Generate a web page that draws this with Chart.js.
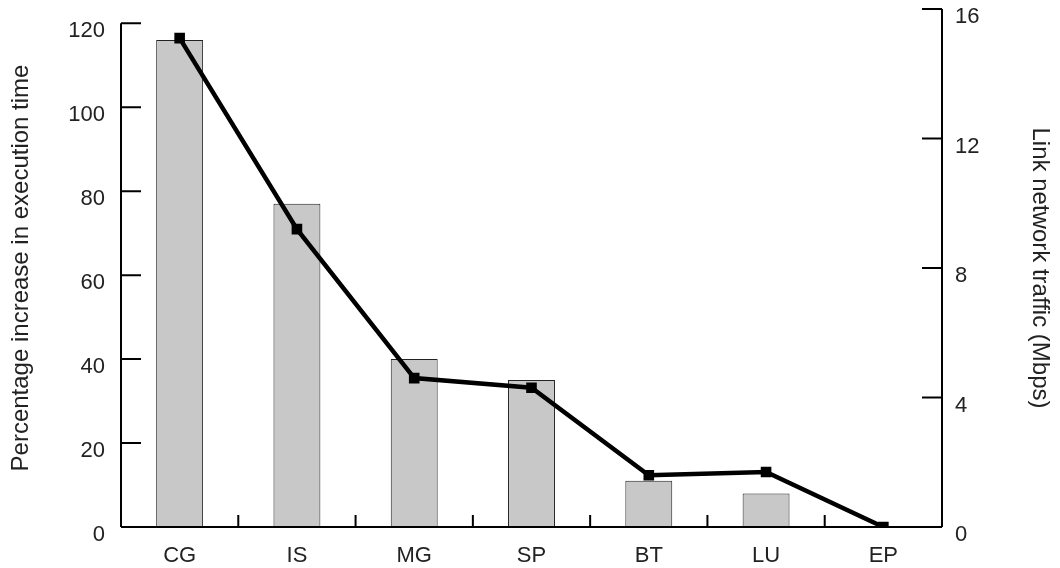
<!DOCTYPE html>
<html>
<head>
<meta charset="utf-8">
<script src="https://cdn.jsdelivr.net/npm/chart.js@4.4.0/dist/chart.umd.min.js"></script>
<style>
  html, body { margin: 0; padding: 0; background: #fff; }
  #wrap { width: 1060px; height: 568px; }
</style>
</head>
<body>
<div id="wrap"><canvas id="myChart" width="1060" height="568"></canvas></div>
<script>
const benchmarks = ['CG', 'IS', 'MG', 'SP', 'BT', 'LU', 'EP'];
const execIncrease = [116, 77, 40, 35, 11, 8, 0];
const linkTraffic = [15.1, 9.2, 4.6, 4.3, 1.6, 1.7, 0];
const leftTicks = [0, 20, 40, 60, 80, 100, 120];
const rightTicks = [0, 4, 8, 12, 16];

Chart.defaults.font.family = "'Liberation Sans', Arial, sans-serif";
Chart.defaults.color = '#222';

// axis lines and inward ticks, like the original plot
const axesPlugin = {
    id: 'axesPlugin',
    afterDatasetsDraw(chart) {
        const ctx = chart.ctx;
        const area = chart.chartArea;
        const yL = chart.scales.y;
        const yR = chart.scales.y2;
        ctx.save();
        ctx.strokeStyle = '#000';
        ctx.lineWidth = 2;
        ctx.beginPath();
        // left axis, stops at top tick
        ctx.moveTo(area.left, yL.getPixelForValue(leftTicks[leftTicks.length - 1]));
        ctx.lineTo(area.left, yL.getPixelForValue(0));
        leftTicks.forEach(function (v) {
            const p = yL.getPixelForValue(v);
            ctx.moveTo(area.left, p);
            ctx.lineTo(area.left + 20, p);
        });
        // right axis
        ctx.moveTo(area.right, yR.getPixelForValue(rightTicks[rightTicks.length - 1]));
        ctx.lineTo(area.right, yR.getPixelForValue(0));
        rightTicks.forEach(function (v) {
            const p = yR.getPixelForValue(v);
            ctx.moveTo(area.right, p);
            ctx.lineTo(area.right - 20, p);
        });
        // x axis with category boundary ticks
        const base = yL.getPixelForValue(0);
        ctx.moveTo(area.left, base);
        ctx.lineTo(area.right, base);
        const step = (area.right - area.left) / benchmarks.length;
        for (var i = 0; i <= benchmarks.length; i++) {
            const x = area.left + i * step;
            ctx.moveTo(x, base);
            ctx.lineTo(x, base - 12);
        }
        ctx.stroke();
        ctx.restore();
    }
};

function noPad(s) {
    s.paddingTop = 0;
    s.paddingBottom = 0;
}

new Chart('myChart', {
    type: 'bar',
    data: {
        labels: benchmarks,
        datasets: [{
            type: 'line',
            data: linkTraffic,
            yAxisID: 'y2',
            borderColor: '#000',
            backgroundColor: '#000',
            borderWidth: 4.5,
            pointStyle: 'rect',
            pointRadius: 7.5,
            pointBorderWidth: 0,
            pointBackgroundColor: '#000',
            fill: false,
            tension: 0,
            order: 0
        }, {
            type: 'bar',
            data: execIncrease,
            yAxisID: 'y',
            backgroundColor: '#c8c8c8',
            borderColor: '#222',
            borderWidth: 1,
            categoryPercentage: 1,
            barPercentage: 0.4,
            order: 1
        }]
    },
    options: {
        responsive: false,
        animation: false,
        layout: { padding: { top: 9, left: 0, right: 0, bottom: 0 } },
        plugins: {
            legend: { display: false },
            tooltip: { enabled: false }
        },
        scales: {
            x: {
                grid: { display: false, drawTicks: false },
                border: { display: false },
                ticks: { font: { size: 22 }, padding: 16 },
                afterFit: function (s) { s.height = 41; s.paddingLeft = 0; s.paddingRight = 0; }
            },
            y: {
                position: 'left',
                min: 0,
                max: 123.4,
                afterBuildTicks: function (s) { s.ticks = leftTicks.map(function (v) { return { value: v }; }); },
                grid: { display: false, drawTicks: false },
                border: { display: false },
                ticks: { font: { size: 22 }, padding: 16, labelOffset: 8 },
                title: {
                    display: true,
                    text: 'Percentage increase in execution time',
                    font: { size: 24 },
                    padding: { top: 7, bottom: 0 }
                },
                afterFit: function (s) { s.width = 121; noPad(s); }
            },
            y2: {
                position: 'right',
                min: 0,
                max: 16,
                afterBuildTicks: function (s) { s.ticks = rightTicks.map(function (v) { return { value: v }; }); },
                grid: { display: false, drawTicks: false },
                border: { display: false },
                ticks: { font: { size: 22 }, padding: 13, labelOffset: 8 },
                title: {
                    display: true,
                    text: 'Link network traffic (Mbps)',
                    font: { size: 24 },
                    padding: { top: 6, bottom: 0 }
                },
                afterFit: function (s) { s.width = 118; noPad(s); }
            }
        }
    },
    plugins: [axesPlugin]
});
</script>
</body>
</html>
